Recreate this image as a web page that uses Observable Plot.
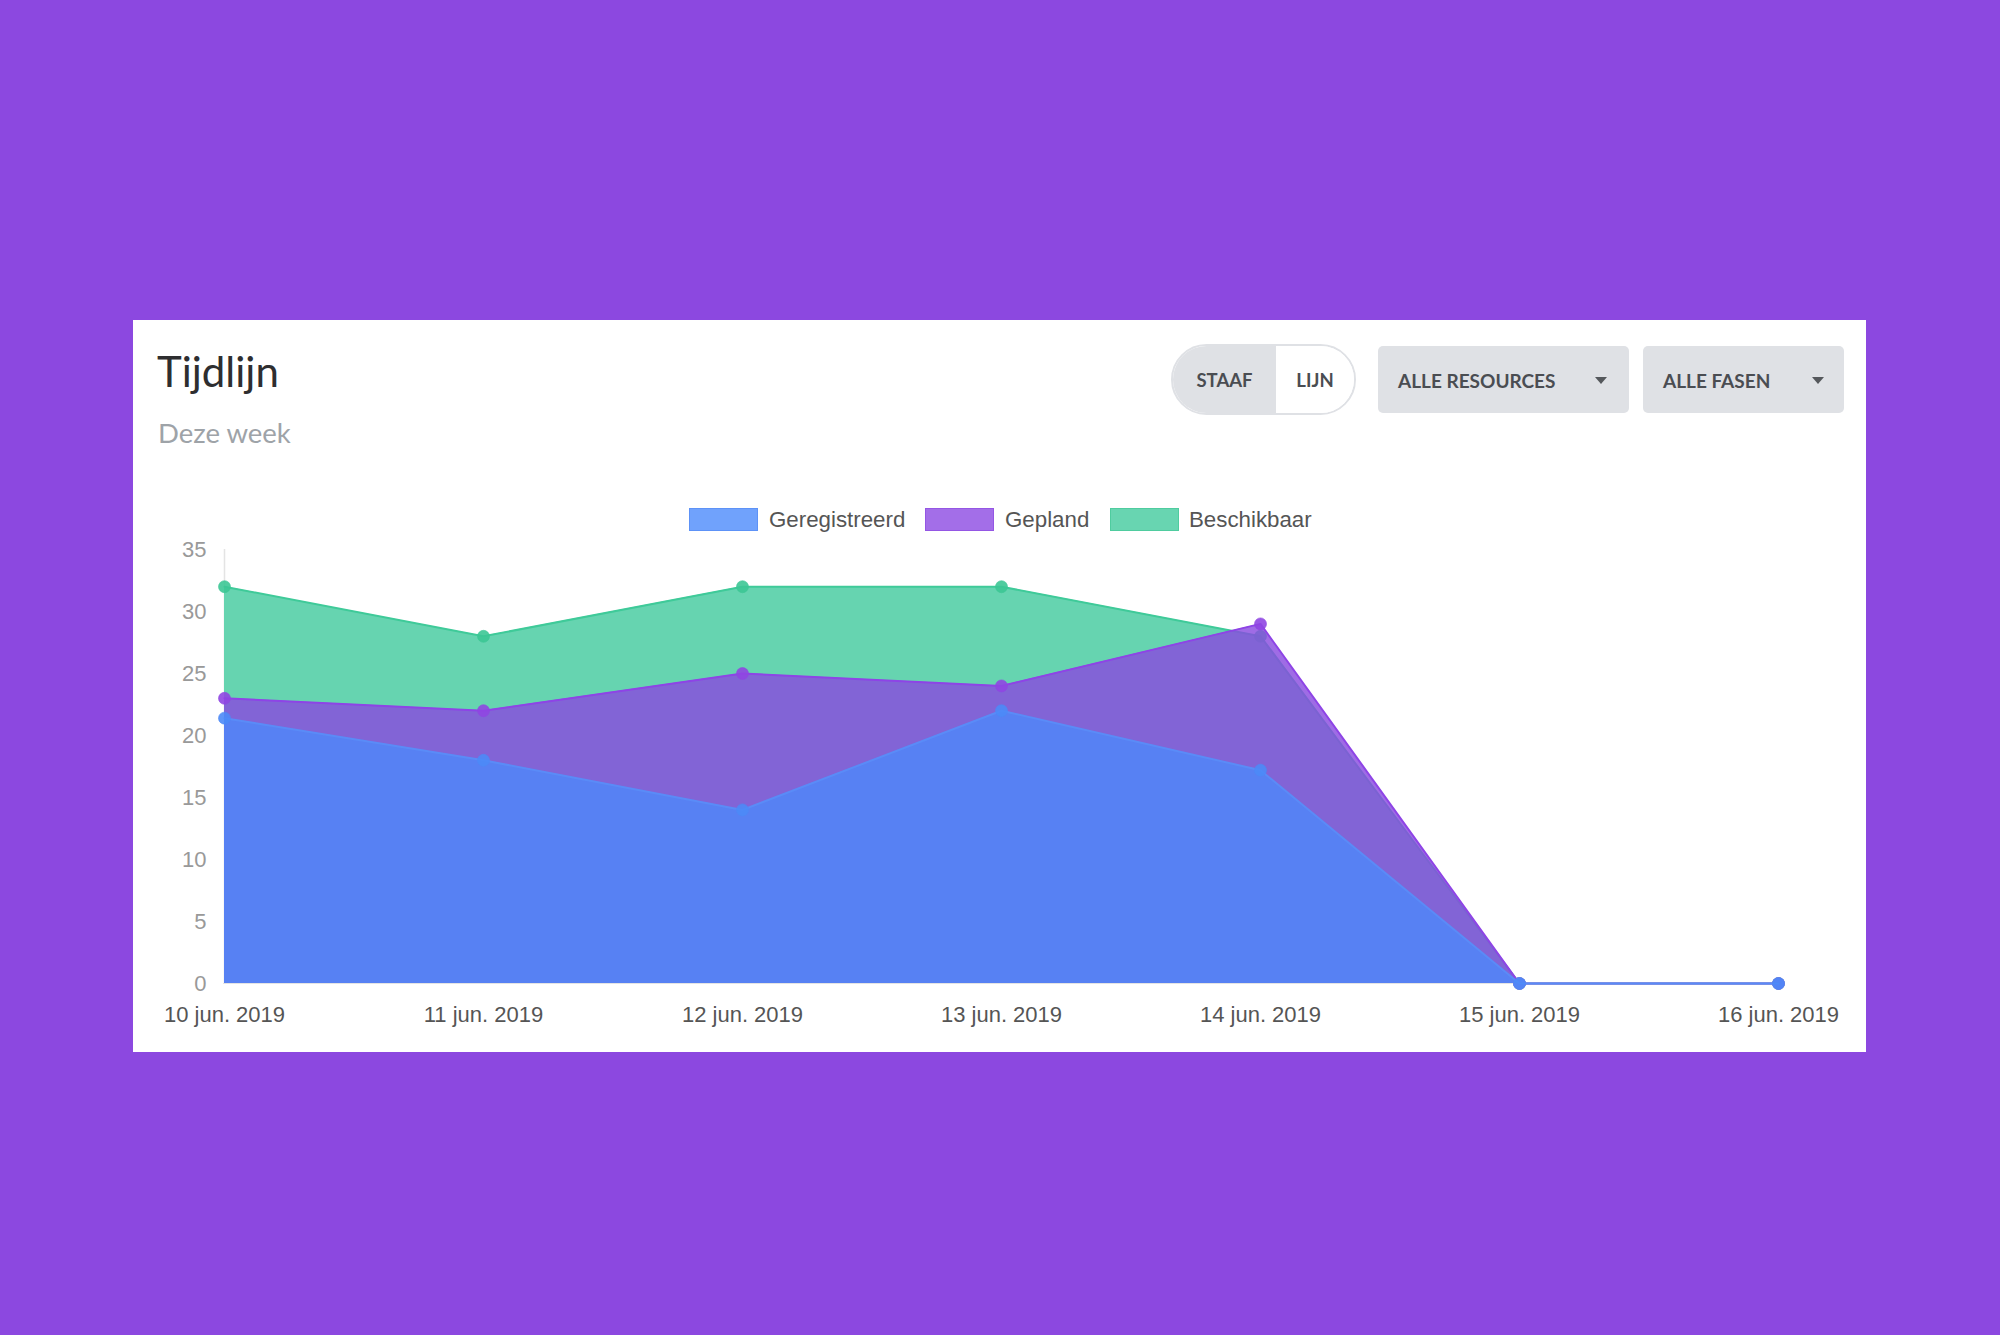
<!DOCTYPE html>
<html><head><meta charset="utf-8">
<script src="https://cdn.jsdelivr.net/npm/d3@7"></script>
<script src="https://cdn.jsdelivr.net/npm/@observablehq/plot@0.6"></script>
<style>
html,body{margin:0;padding:0;}
body{width:2000px;height:1335px;background:#8c48e0;position:relative;overflow:hidden;font-family:Lato,sans-serif;}
#card{position:absolute;left:133px;top:320px;width:1733px;height:732px;background:#fff;}
#title{position:absolute;left:24px;top:30px;font-size:42px;line-height:1;color:#2e2e30;font-family:Lato;white-space:nowrap;}
#subtitle{position:absolute;left:25px;top:99px;font-size:27.5px;line-height:1;color:#9ea3a8;font-family:Lato;white-space:nowrap;}
.pill{position:absolute;left:1038px;top:24px;width:185px;height:71px;border-radius:36px;overflow:hidden;display:flex;box-sizing:border-box;border:2px solid #dfe1e5;}
.pill div{display:flex;align-items:center;justify-content:center;font-family:Lato;font-weight:700;font-size:18.5px;color:#4a4d52;}
.pill .a{width:103px;background:#dfe1e5;}
.pill .b{flex:1;background:#fff;}
.btn{position:absolute;top:26px;height:67px;background:#dfe1e5;border-radius:5px;font-family:Lato;font-weight:700;font-size:19px;color:#4a4d52;box-sizing:border-box;}
.btn span{position:absolute;left:20px;top:50%;transform:translateY(-50%);white-space:nowrap;}
.btn i{position:absolute;top:31px;width:0;height:0;border-left:6px solid transparent;border-right:6px solid transparent;border-top:7px solid #55585c;}
.sw{position:absolute;top:188px;width:69px;height:23px;box-sizing:border-box;}
.lt{position:absolute;top:200px;transform:translateY(-50%);font-family:"Liberation Sans",Arial,sans-serif;font-size:22.3px;color:#555;white-space:nowrap;}
#chart{position:absolute;left:0;top:220px;}
</style>
</head>
<body>
<div id="card">
  <div id="title">Tijdlijn</div>
  <div id="subtitle">Deze week</div>
  <div class="pill"><div class="a">STAAF</div><div class="b">LIJN</div></div>
  <div class="btn" style="left:1245px;width:251px;"><span>ALLE RESOURCES</span><i style="left:217px"></i></div>
  <div class="btn" style="left:1510px;width:201px;"><span>ALLE FASEN</span><i style="left:169px"></i></div>
  <div class="sw" style="left:556px;background:#70a2fc;border:1px solid #5d92f7;"></div>
  <div class="lt" style="left:636px;">Geregistreerd</div>
  <div class="sw" style="left:792px;background:#a36ee8;border:1px solid #9456e4;"></div>
  <div class="lt" style="left:872px;">Gepland</div>
  <div class="sw" style="left:977px;background:#68d5b1;border:1px solid #4fcc9f;"></div>
  <div class="lt" style="left:1056px;">Beschikbaar</div>
  <div id="chart"></div>
</div>
<script>
const days = ["10 jun. 2019","11 jun. 2019","12 jun. 2019","13 jun. 2019","14 jun. 2019","15 jun. 2019","16 jun. 2019"];
const geregistreerd = [21.4, 18, 14, 22, 17.2, 0, 0];
const gepland = [23, 22, 25, 24, 29, 0, 0];
const beschikbaar = [32, 28, 32, 32, 28, 0, 0];
const yTicks = [0, 5, 10, 15, 20, 25, 30, 35];

const rows = (vals) => days.map((d, i) => ({day: d, value: vals[i]}));
const dG = rows(beschikbaar), dP = rows(gepland), dB = rows(geregistreerd);

const layer = (data, o) => [
  Plot.areaY(data, {x: "day", y: "value", fill: o.fill, fillOpacity: o.fo}),
  Plot.lineY(data, {x: "day", y: "value", stroke: o.line, strokeWidth: 2}),
  Plot.dot(data, {x: "day", y: "value", r: 6, fill: o.dot, fillOpacity: 0.9, stroke: o.dot, strokeOpacity: 0.6, strokeWidth: 1})
];

const chart = Plot.plot({
  width: 1733, height: 500,
  marginLeft: 90, marginRight: 87, marginTop: 9, marginBottom: 57,
  style: {fontFamily: "'Liberation Sans', Arial, sans-serif", fontSize: "22px", background: "transparent", overflow: "visible"},
  x: {type: "point", domain: days, padding: 0},
  y: {domain: [0, 35]},
  marks: [
    Plot.ruleX([days[0]], {y1: 0, y2: 35, stroke: "#e4e4e4", strokeWidth: 1.5}),
    Plot.ruleY([0], {stroke: "#e4e4e4"}),
    ...layer(dG, {fill: "#66d4b0", fo: 1, line: "#3fca99", dot: "#3cc795"}),
    ...layer(dP, {fill: "#894adf", fo: 0.81, line: "#8e44e6", dot: "#8f46e2"}),
    ...layer(dB, {fill: "#5781f3", fo: 1, line: "#5a8bf7", dot: "#4d89f7"}),
    Plot.axisX({tickSize: 0, tickPadding: 23, fill: "#555", label: null}),
    Plot.axisY({ticks: yTicks, tickSize: 0, tickPadding: 17, fill: "#999", label: null})
  ]
});
document.getElementById("chart").appendChild(chart);
</script>
</body></html>
